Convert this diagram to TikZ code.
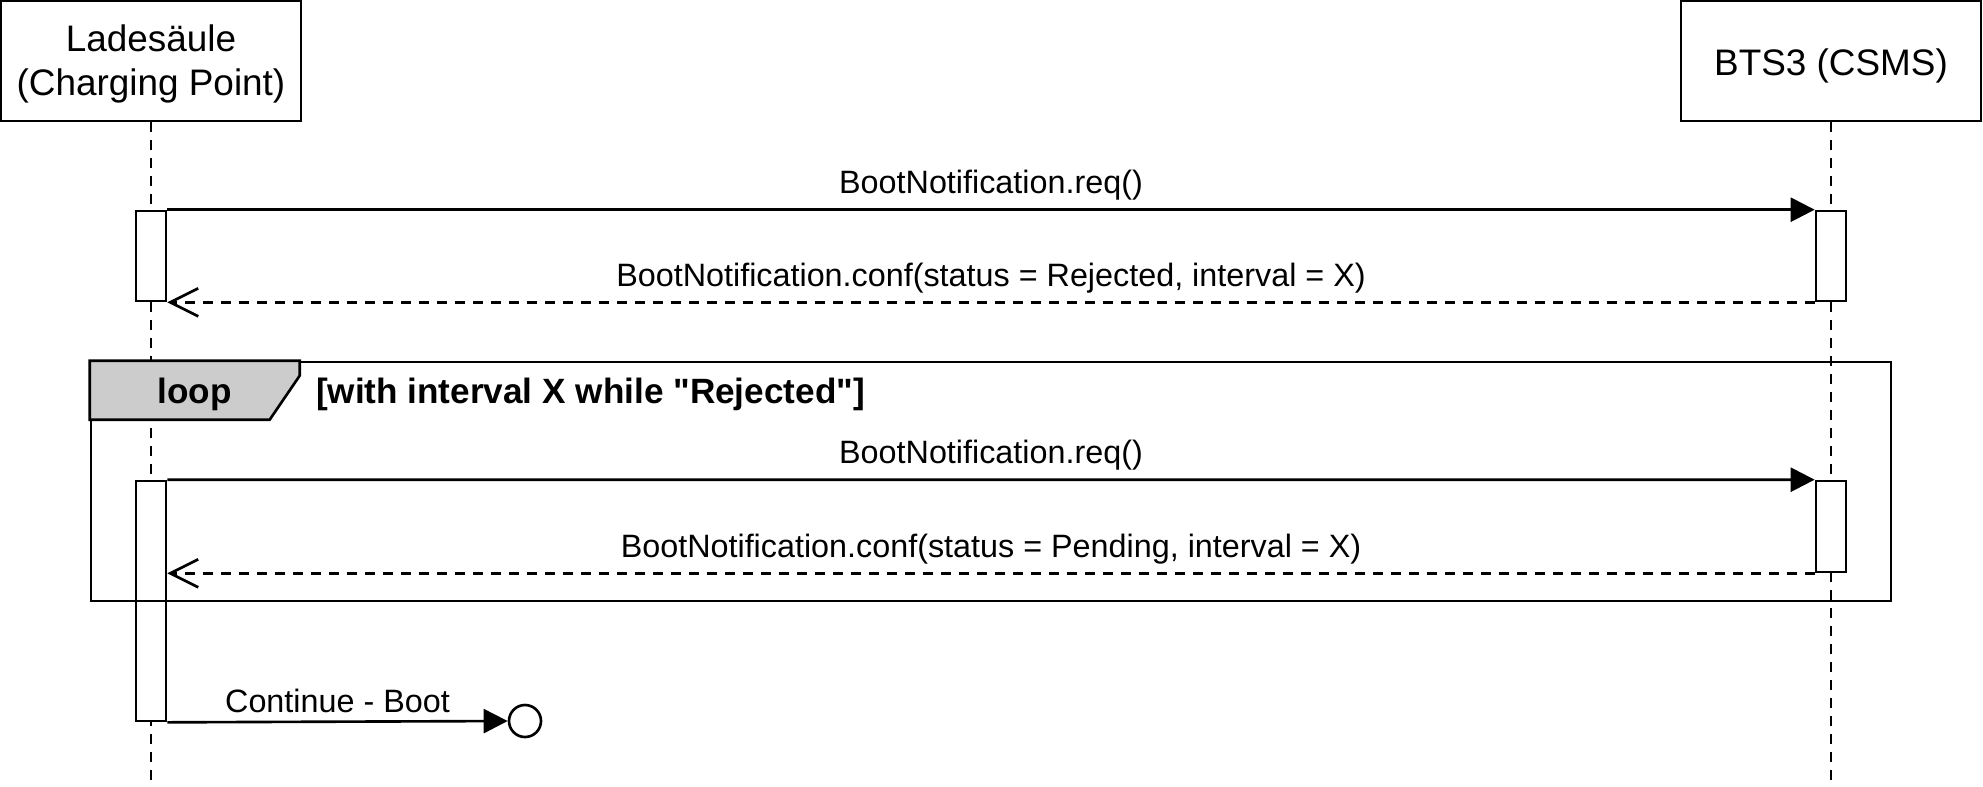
\documentclass[tikz,border=0pt]{standalone}
\usepackage{fontspec}
\setmainfont{Liberation Sans}[Ligatures=TeXOff]
\usetikzlibrary{arrows.meta, positioning, calc}
\tikzset{
    participant/.style={draw, fill=white, minimum width=30mm, minimum height=12mm, align=center, font=\fontsize{10.5}{12.5}\selectfont},
    lifeline/.style={dash pattern=on 1mm off 0.8mm},
    activation/.style={draw, fill=white, minimum width=3mm, inner sep=0pt},
    msg/.style={-{Triangle[length=2.4mm, width=2.4mm]}},
    % answers come back dashed with an open tip
    reply/.style={dash pattern=on 1mm off 0.8mm, -{Straight Barb[length=2.8mm, width=2.8mm]}},
    msglabel/.style={midway, above, yshift=-0.4mm, font=\fontsize{9.2}{11}\selectfont},
    frame/.style={draw, inner sep=0pt},
    looptab/.style={draw, fill=black!20, line join=miter},
    guard/.style={font=\bfseries\fontsize{10}{12}\selectfont},
    endpoint/.style={draw, circle, fill=white, minimum size=3.2mm, inner sep=0pt},
}

\begin{document}
\begin{tikzpicture}[x=0.1mm, y=-0.1mm, line width=0.75pt]
    \useasboundingbox (0,0) rectangle (1983,786);
    \coordinate (bottom) at (0,780);

    \node[participant, text height=7.6mm] (cp) at (151,61) {Ladesäule\\(Charging Point)};
    \node[participant, text height=3.7mm, text depth=0.75mm] (csms) at (1831,61) {BTS3 (CSMS)};

    \draw[lifeline] (cp.south) -- (cp.south |- bottom);
    \draw[lifeline] (csms.south) -- (csms.south |- bottom);

    \node[activation, minimum height=9mm] (cpa1) at (151,256) {};
    \node[activation, minimum height=9mm] (csa1) at (1831,256) {};
    \node[activation, minimum height=24mm] (cpa2) at (151,601) {};
    \node[activation, minimum height=9.1mm] (csa2) at (1831,526.5) {};

    \draw[msg] (cpa1.north east) -- (csa1.north west) node[msglabel] {BootNotification.req()};
    \draw[reply] (csa1.south west) -- (cpa1.south east) node[msglabel] {BootNotification.conf(status = Rejected, interval = X)};

    % loop fragment
    \node[frame, minimum width=180mm, minimum height=23.9mm] (loop) at (991,481.5) {};
    \draw[looptab] (loop.north west) -- ++(210,0) -- ++(0,15) -- ++(-30,44) -- ++(-180,0) -- cycle;
    \node[guard] (looplbl) at ($(loop.north west)+(105,34)$) {loop};
    \node[guard, anchor=west, inner sep=0pt] (loopguard) at ($(loop.north west)+(225,34)$) {[with interval X while "Rejected"]};

    \draw[msg] (cpa2.north east) -- (csa2.north west) node[msglabel] {BootNotification.req()};
    \draw[reply] (csa2.south west) -- (cpa2.east |- csa2.south) node[msglabel] {BootNotification.conf(status = Pending, interval = X)};

    \node[endpoint] (boot) at (525,721) {};
    \draw[msg] (cpa2.south east) -- (boot.west) node[msglabel] {Continue - Boot};
\end{tikzpicture}
\end{document}
